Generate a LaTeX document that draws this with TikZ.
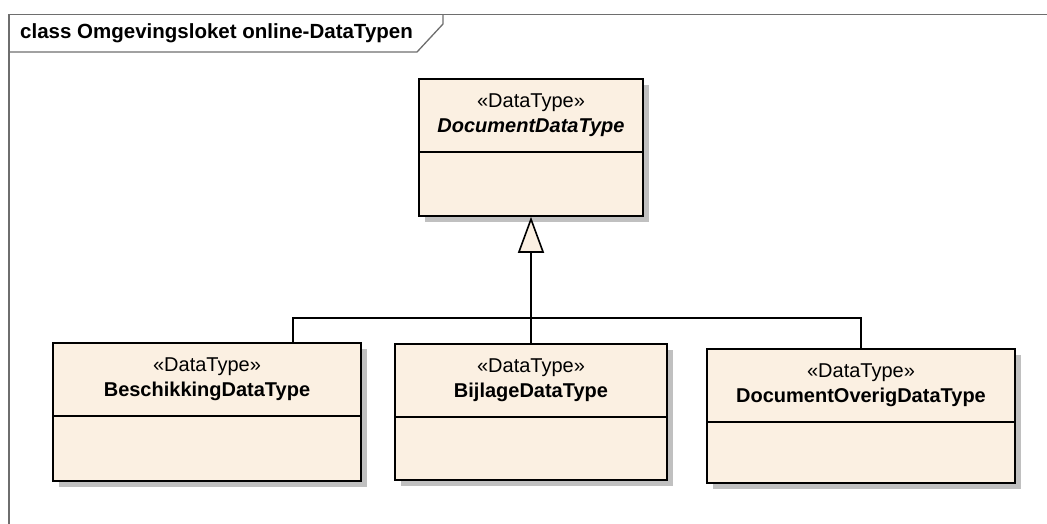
\documentclass[tikz,border=0pt]{standalone}
\usepackage{fontspec}
\setmainfont{Liberation Sans}
\usetikzlibrary{arrows.meta,shadows}

\definecolor{dtfill}{RGB}{251,240,226}
\definecolor{framegray}{RGB}{110,110,110}
\definecolor{shadowgray}{RGB}{192,192,192}

\tikzset{
    dtbox/.style={draw=black, line width=1.6pt, fill=dtfill, inner sep=0pt,
        drop shadow={shadow xshift=6pt, shadow yshift=-6pt, fill=shadowgray, opacity=1}},
    dttext/.style={align=center, inner sep=0pt, font=\fontsize{20}{25.5}\selectfont},
    gen/.style={line width=1.6pt, -{Triangle[length=36pt, width=26pt, fill=dtfill, line width=1.6pt]}},
    assoc/.style={line width=1.6pt}
}

\begin{document}
\begin{tikzpicture}[x=1pt, y=-1pt, line join=miter]

        \clip (0,0) rectangle (1047,523);
        \useasboundingbox (0,0) rectangle (1047,523);

        % Frame and title tab
        \draw[framegray, line width=1.3pt] (9,530) -- (9,14.5) -- (1060,14.5);
        \draw[framegray, line width=1.3pt] (9,52) -- (417,52) -- (443,24) -- (443,14.5);
        \node[anchor=west, inner sep=0pt, font=\fontsize{20.5}{22}\selectfont\bfseries] (title) at (20,33) {class Omgevingsloket online-DataTypen};

        % Classes
        \node[dtbox, minimum width=224pt, minimum height=137pt] (doc) at (531,147.5) {};
        \node[dtbox, minimum width=308pt, minimum height=138pt] (besch) at (207,412) {};
        \node[dtbox, minimum width=272pt, minimum height=136pt] (bijl) at (531,412) {};
        \node[dtbox, minimum width=308pt, minimum height=134pt] (overig) at (861,416) {};

        % Header dividers
        \foreach \n in {doc, besch, bijl, overig} {
            \draw[line width=1.6pt] ([yshift=-74pt]\n.north west) -- ([yshift=-74pt]\n.north east);
        }

        % Class names
        \node[dttext] (doc-t) at ([yshift=-37pt]doc.north) {«DataType»\\\textbf{\textit{DocumentDataType}}};
        \node[dttext] (besch-t) at ([yshift=-37pt]besch.north) {«DataType»\\\textbf{BeschikkingDataType}};
        \node[dttext] (bijl-t) at ([yshift=-37pt]bijl.north) {«DataType»\\\textbf{BijlageDataType}};
        \node[dttext] (overig-t) at ([yshift=-37pt]overig.north) {«DataType»\\\textbf{DocumentOverigDataType}};

        % Generalisation
        \coordinate (bar) at (531,318);
        \draw[assoc] ([xshift=86pt]besch.north) |- (bar);
        \draw[assoc] (overig.north) |- (bar);
        \draw[gen] (bijl.north) -- (doc.south);

\end{tikzpicture}
\end{document}
